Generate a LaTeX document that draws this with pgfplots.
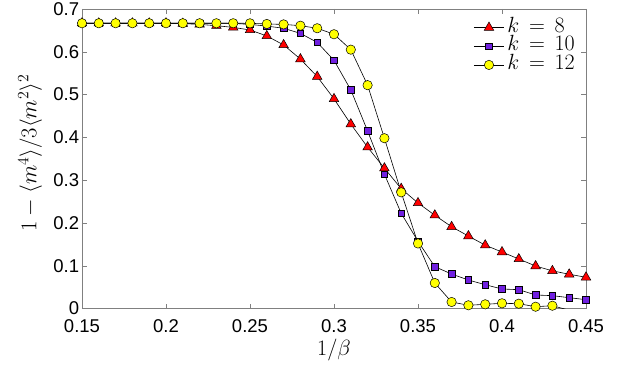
\RequirePackage{fix-cm}
\documentclass[border=0pt]{standalone}
\usepackage{pgfplots}
\pgfplotsset{compat=1.18}
\usepackage{fontspec}
\newfontfamily\tickfont{Liberation Sans}
\definecolor{mred}{RGB}{255,0,0}
\definecolor{mpurple}{RGB}{112,32,224}
\definecolor{myellow}{RGB}{255,255,0}
\begin{document}
\begin{tikzpicture}
\useasboundingbox (-82pt,-60.5pt) rectangle (541pt,308.5pt);
\begin{axis}[
  scale only axis,
  width=504pt, height=299.5pt,
  xmin=0.15, xmax=0.45, ymin=0, ymax=0.7,
  xtick={0.15,0.2,0.25,0.3,0.35,0.4,0.45},
  xticklabels={0.15,0.2,0.25,0.3,0.35,0.4,0.45},
  ytick={0,0.1,0.2,0.3,0.4,0.5,0.6,0.7},
  yticklabels={0,0.1,0.2,0.3,0.4,0.5,0.6,0.7},
  tick align=inside,
  major tick length=5pt,
  axis line style={black!50},
  every tick/.style={black!50},
  ticklabel style={font=\tickfont\fontsize{18.5}{18.5}\selectfont},
  yticklabel style={inner sep=0pt, xshift=-2.7pt},
  xticklabel style={inner sep=0pt, yshift=-10.5pt},
  xlabel={$1/\beta$},
  ylabel={$1-\langle m^4\rangle/3\langle m^2\rangle^2$},
  xlabel style={font=\fontsize{22}{22}\selectfont, at={(axis description cs:0.5,-0.137)}, anchor=center},
  ylabel style={font=\fontsize{22.5}{22.5}\selectfont, at={(axis description cs:-0.103,0.519)}, anchor=center},
  legend style={draw=none, fill=none, at={(axis description cs:1,1)}, anchor=north east,
    xshift=-8pt, yshift=-7pt,
    font=\fontsize{22}{22}\selectfont,
    nodes={inner sep=0pt, text height=14pt, text depth=4.7pt},
    /tikz/every odd column/.append style={column sep=3pt}},
  legend cell align=left,
  legend image code/.code={\draw[mark repeat=2,mark phase=2] plot coordinates {(0pt,0pt)(15pt,0pt)(30pt,0pt)};},
]
\addplot[black, line width=0.6pt, mark=triangle*, mark size=5.5pt, mark options={fill=mred, draw=black, line width=0.5pt}] coordinates {
(0.15,0.6667)(0.16,0.6667)(0.17,0.6667)(0.18,0.6667)(0.19,0.6667)(0.20,0.6667)
(0.21,0.666)(0.22,0.664)(0.23,0.661)(0.24,0.657)(0.25,0.651)(0.26,0.637)
(0.27,0.616)(0.28,0.583)(0.29,0.542)(0.30,0.490)(0.31,0.431)(0.32,0.377)
(0.33,0.328)(0.34,0.280)(0.35,0.2466)(0.36,0.218)(0.37,0.191)(0.38,0.1694)
(0.39,0.148)(0.40,0.132)(0.41,0.1157)(0.42,0.0993)(0.43,0.088)(0.44,0.080)(0.45,0.073)
};
\addlegendentry{$k\,=\,8$}
\addplot[black, line width=0.6pt, mark=square*, mark size=3.3pt, mark options={fill=mpurple, draw=black, line width=0.5pt}] coordinates {
(0.15,0.6667)(0.16,0.6667)(0.17,0.6667)(0.18,0.6667)(0.19,0.6667)(0.20,0.6667)
(0.21,0.6667)(0.22,0.6667)(0.23,0.6667)(0.24,0.6665)(0.25,0.664)(0.26,0.660)
(0.27,0.655)(0.28,0.643)(0.29,0.622)(0.30,0.580)(0.31,0.511)(0.32,0.415)
(0.33,0.314)(0.34,0.2225)(0.35,0.157)(0.36,0.0977)(0.37,0.0806)(0.38,0.0666)
(0.39,0.0556)(0.40,0.0456)(0.41,0.044)(0.42,0.0316)(0.43,0.030)(0.44,0.0253)(0.45,0.0206)
};
\addlegendentry{$k\,=\,10$}
\addplot[black, line width=0.6pt, mark=*, mark size=4.7pt, mark options={fill=myellow, draw=black, line width=0.5pt}] coordinates {
(0.15,0.6667)(0.16,0.6667)(0.17,0.6667)(0.18,0.6667)(0.19,0.6667)(0.20,0.6667)
(0.21,0.6667)(0.22,0.6667)(0.23,0.6667)(0.24,0.6667)(0.25,0.6665)(0.26,0.665)
(0.27,0.664)(0.28,0.661)(0.29,0.655)(0.30,0.641)(0.31,0.605)(0.32,0.522)
(0.33,0.398)(0.34,0.2715)(0.35,0.152)(0.36,0.0596)(0.37,0.0152)(0.38,0.0075)
(0.39,0.0098)(0.40,0.0122)(0.41,0.0112)(0.42,0.0042)(0.43,0.0065)(0.44,-0.004)
};
\addlegendentry{$k\,=\,12$}
\end{axis}
\end{tikzpicture}
\end{document}
